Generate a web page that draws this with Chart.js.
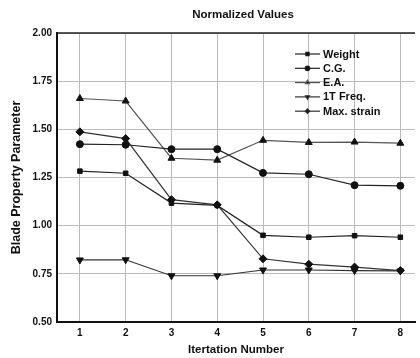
<!DOCTYPE html>
<html><head><meta charset="utf-8">
<script src="https://cdn.jsdelivr.net/npm/chart.js@4"></script>
<style>html,body{margin:0;padding:0;background:#fff;overflow:hidden}#wrap{width:420px;height:358px}</style>
</head><body><div id="wrap"><canvas id="c" width="420" height="358"></canvas></div>
<script>
const iterations = [1, 2, 3, 4, 5, 6, 7, 8];
const weight     = [1.283, 1.272, 1.117, 1.105, 0.950, 0.940, 0.948, 0.940];
const cg         = [1.423, 1.420, 1.397, 1.397, 1.274, 1.267, 1.210, 1.207];
const ea         = [1.660, 1.647, 1.350, 1.340, 1.443, 1.432, 1.434, 1.428];
const freq1T     = [0.822, 0.823, 0.740, 0.740, 0.770, 0.770, 0.767, 0.765];
const maxStrain  = [1.487, 1.452, 1.135, 1.108, 0.828, 0.800, 0.785, 0.767];
const yTicks = [0.50, 0.75, 1.00, 1.25, 1.50, 1.75, 2.00];
const FONT = "'Liberation Sans', Arial, sans-serif";

const pts = arr => iterations.map((x, i) => ({x, y: arr[i]}));
const series = [
  {label: 'Weight', data: weight, style: 'rect', rot: 0, r: 3.2, col: '#222'},
  {label: 'C.G.', data: cg, style: 'circle', rot: 0, r: 3.5, col: '#222'},
  {label: 'E.A.', data: ea, style: 'triangle', rot: 0, r: 4, col: '#555'},
  {label: '1T Freq.', data: freq1T, style: 'triangle', rot: 180, r: 4, col: '#333'},
  {label: 'Max. strain', data: maxStrain, style: 'rectRot', rot: 0, r: 4, col: '#333'}
];

const legendPlugin = {
  id: 'insideLegend',
  afterDraw(chart) {
    const ctx = chart.ctx;
    ctx.save();
    chart.data.datasets.forEach((ds, i) => {
      const y = 54 + i * 14.3;
      ctx.strokeStyle = ds.borderColor; ctx.lineWidth = 1.2;
      ctx.beginPath(); ctx.moveTo(295, y); ctx.lineTo(320, y); ctx.stroke();
      Chart.helpers.drawPoint(ctx, {pointStyle: ds.pointStyle, rotation: ds.pointRotation, radius: 2.3, borderWidth: 1}, 307.5, y);
      ctx.fillStyle = '#111'; ctx.font = 'bold 11px ' + FONT;
      ctx.textBaseline = 'middle'; ctx.textAlign = 'left';
      ctx.fillText(ds.label, 323, y + 0.5);
    });
    const a = chart.chartArea;
    ctx.fillStyle = '#111'; ctx.font = 'bold 11.5px ' + FONT;
    ctx.textAlign = 'center'; ctx.textBaseline = 'middle';
    ctx.fillText('Normalized Values', 243, 15);
    ctx.strokeStyle = '#222'; ctx.lineWidth = 1.5;
    ctx.beginPath(); ctx.moveTo(a.left, a.top); ctx.lineTo(a.right, a.top); ctx.stroke();
    ctx.restore();
  }
};

new Chart(document.getElementById('c'), {
  type: 'line',
  data: {
    datasets: series.map(s => ({
      label: s.label, data: pts(s.data),
      borderColor: s.col, backgroundColor: '#111',
      pointBackgroundColor: '#111', pointBorderColor: '#111',
      pointStyle: s.style, pointRotation: s.rot, pointRadius: s.r, pointBorderWidth: 1,
      borderWidth: 1.2, tension: 0
    }))
  },
  options: {
    responsive: false, animation: false,
    layout: {padding: {top: 33, right: 0, left: 0, bottom: 0}},
    plugins: {legend: {display: false}, tooltip: {enabled: false}, title: {display: false}},
    scales: {
      x: {
        type: 'linear', min: 0.5, max: 8.32,
        afterBuildTicks: s => { s.ticks = iterations.map(v => ({value: v})); },
        afterFit: s => { s.height = 36; },
        grid: {color: '#bbb', lineWidth: 1, drawTicks: false},
        border: {color: '#111', width: 2},
        ticks: {color: '#111', font: {family: FONT, size: 10, weight: 'bold'}, padding: 5, maxRotation: 0},
        title: {display: true, text: 'Itertation Number', color: '#111', font: {family: FONT, size: 11.5, weight: 'bold'}, padding: {top: 0, bottom: 1}}
      },
      y: {
        min: 0.5, max: 2.0,
        afterBuildTicks: s => { s.ticks = yTicks.map(v => ({value: v})); },
        afterFit: s => { s.width = 57; },
        grid: {color: '#bbb', lineWidth: 1, drawTicks: false},
        border: {color: '#111', width: 2},
        ticks: {color: '#111', font: {family: FONT, size: 10, weight: 'bold'}, padding: 5, callback: v => v.toFixed(2)},
        title: {display: true, text: 'Blade Property Parameter', color: '#111', font: {family: FONT, size: 12.5, weight: 'bold'}, padding: {top: 9.5, bottom: 0}}
      }
    }
  },
  plugins: [legendPlugin]
});
</script></body></html>
